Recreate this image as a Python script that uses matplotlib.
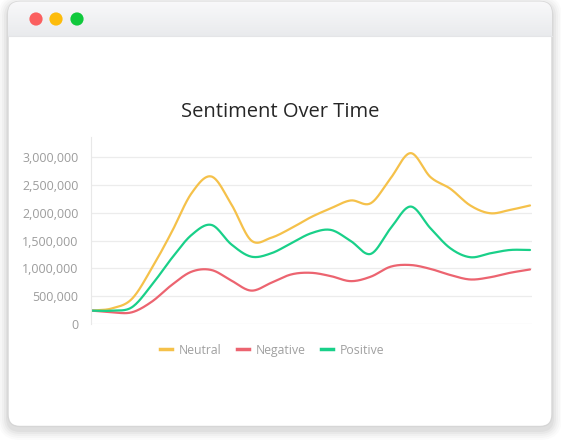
import numpy as np
import matplotlib.pyplot as plt
from matplotlib.patches import FancyBboxPatch, Circle
from matplotlib.lines import Line2D

# data (one point per step, no x labels shown)
steps = list(range(23))
neutral = [240000, 280000, 450000, 1000000, 1650000, 2350000, 2650000, 2150000,
           1500000, 1550000, 1720000, 1920000, 2080000, 2220000, 2170000, 2620000,
           3070000, 2640000, 2430000, 2130000, 1990000, 2050000, 2130000]
negative = [240000, 210000, 210000, 400000, 700000, 940000, 970000, 780000,
            600000, 740000, 890000, 920000, 860000, 770000, 850000, 1030000,
            1060000, 990000, 880000, 800000, 840000, 920000, 980000]
positive = [240000, 240000, 300000, 700000, 1180000, 1600000, 1780000, 1430000,
            1210000, 1270000, 1450000, 1630000, 1690000, 1490000, 1260000, 1720000,
            2110000, 1720000, 1360000, 1200000, 1270000, 1330000, 1330000]
series_names = ['Neutral', 'Negative', 'Positive']
series_colors = ['#f5c14a', '#ec6470', '#19d089']
yticks = [0, 500000, 1000000, 1500000, 2000000, 2500000, 3000000]


def smooth(x, y, n=24):
    # cardinal (catmull-rom) spline through the points, for drawing only
    x = np.asarray(x, float)
    y = np.asarray(y, float)
    m = np.zeros_like(y)
    m[1:-1] = (y[2:] - y[:-2]) / 2
    m[0] = y[1] - y[0]
    m[-1] = y[-1] - y[-2]
    xs, ys = [], []
    for i in range(len(x) - 1):
        t = np.linspace(0, 1, n, endpoint=False)
        h00 = 2*t**3 - 3*t**2 + 1
        h10 = t**3 - 2*t**2 + t
        h01 = -2*t**3 + 3*t**2
        h11 = t**3 - t**2
        ys.append(h00*y[i] + h10*m[i] + h01*y[i+1] + h11*m[i+1])
        xs.append(x[i] + t*(x[i+1] - x[i]))
    xs.append([x[-1]])
    ys.append([y[-1]])
    return np.concatenate(xs), np.concatenate(ys)


plt.rcParams['font.family'] = ['Open Sans', 'DejaVu Sans']

fig = plt.figure(figsize=(5.61, 4.44), dpi=100)
fig.patch.set_facecolor('white')

# window frame drawn in pixel coordinates
bg = fig.add_axes([0, 0, 1, 1], zorder=0)
bg.set_xlim(0, 561)
bg.set_ylim(444, 0)
bg.axis('off')

for k, a in enumerate([0.035, 0.03, 0.025, 0.02, 0.015]):
    d = 2 + k * 2
    sh = FancyBboxPatch((8 - d, 2 - d + 3), 544 + 2*d, 425 + 2*d,
                        boxstyle='round,pad=0,rounding_size=%d' % (12 + d),
                        facecolor='black', edgecolor='none', alpha=a)
    bg.add_patch(sh)

card = FancyBboxPatch((8, 1.5), 544, 425, boxstyle='round,pad=0,rounding_size=12',
                      facecolor='white', edgecolor='#d6d6d6', linewidth=1.0)
bg.add_patch(card)

grad = np.linspace(0, 1, 50).reshape(-1, 1)
top = np.array([0.975, 0.975, 0.98])
bot = np.array([0.915, 0.92, 0.93])
img = top + grad[..., None] * (bot - top)
im = bg.imshow(img, extent=[8, 552, 36.5, 1.5], aspect='auto', zorder=1)
im.set_clip_path(card)
bg.plot([8, 552], [36.5, 36.5], color='#e4e5e7', lw=0.8, zorder=2)

for cx, col in zip([36, 56, 77], ['#fb5f5f', '#fdbc0b', '#10c93c']):
    bg.add_patch(Circle((cx, 19), 6.6, facecolor=col, edgecolor='none', zorder=3))

fig.text(0.5, 0.748, 'Sentiment Over Time', ha='center', va='center',
         fontsize=14.5, color='#262626')

# chart
ax = fig.add_axes([91/561, 1 - 324/444, 441/561, 187/444], zorder=1)
ax.patch.set_alpha(0)

for vals, name, col in zip([neutral, negative, positive], series_names, series_colors):
    sx, sy = smooth(steps, vals)
    ax.plot(sx, sy, color=col, lw=1.6, solid_capstyle='round', label=name)

ax.set_xlim(-0.05, 22.1)
ax.set_ylim(0, 3.36e6)
ax.set_yticks(yticks)
ax.set_yticklabels(['{:,}'.format(v) for v in yticks])
ax.set_xticks([])
ax.grid(axis='y', color='#ececec', lw=0.9)
ax.set_axisbelow(True)
for s in ['top', 'right', 'bottom']:
    ax.spines[s].set_visible(False)
ax.spines['left'].set_color('#e8e8e8')
ax.tick_params(axis='y', length=0, pad=9, labelsize=9, labelcolor='#9c9c9c')

handles = [Line2D([0], [0], color=c, lw=2.5) for c in series_colors]
leg = fig.legend(handles, series_names, loc='center', bbox_to_anchor=(0.485, 1 - 350/444),
                 ncol=3, frameon=False, fontsize=8.8, handlelength=1.0,
                 handletextpad=0.5, columnspacing=1.3)
for t in leg.get_texts():
    t.set_color('#a0a0a0')

plt.savefig('out.png', dpi=100)
